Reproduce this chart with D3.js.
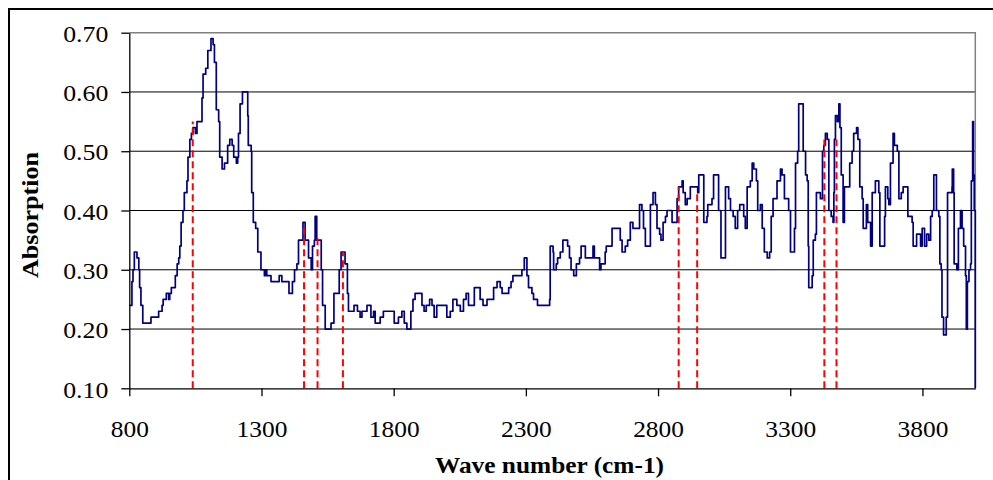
<!DOCTYPE html>
<html><head><meta charset="utf-8">
<script src="https://cdn.jsdelivr.net/npm/d3@7"></script>
<style>body{margin:0;background:#fff} svg{display:block}</style>
</head><body><svg id="c" width="993" height="480"></svg>
<script>
const wavenumbers = [
800,810,814,819,829,836,839,844,851,879,882,907,911,924,928,940,949,953,959,974,981,987,991,996,1003,1008,1018,1022,1029,1035,1041,1050,1056,1069,1075,1079,1089,1097,1109,1117,1122,1129,1138,1142,1151,1160,1172,1180,1189,1195,1205,
1210,1213,1219,1228,1244,1248,1250,1261,1263,1269,1278,1286,1298,1311,1316,1320,1333,1336,1362,1367,1377,1400,1404,1417,1425,1434,1440,1450,1457,1465,1478,1488,1493,1500,1503,1509,1518,1526,1531,1541,1556,1563,1574,1586,1594,1601,1610,1616,
1625,1629,1648,1650,1661,1663,1673,1680,1692,1699,1708,1714,1724,1730,1742,1749,1761,1799,1802,1818,1831,1840,1850,1865,1873,1881,1900,1907,1915,1923,1936,1945,1953,1963,1988,2001,2014,2024,2039,2052,2064,2074,2083,2102,2105,2121,2127,2138,2153,2172,2178,2191,2203,2210,2228,2235,2244,2251,2279,2285,2294,2304,2310,2323,2329,2344,2382,2390,2392,2403,2405,2415,2420,2430,2440,2453,2458,2465,
2471,2481,2491,2503,2509,2518,2525,2550,2554,2559,2571,2579,2584,2600,2604,2619,2626,2651,2657,2664,2676,2685,2695,2705,2720,2730,2739,2745,2752,2761,2771,2781,2790,2796,2806,2811,2819,2828,2834,2847,2853,2866,2872,2878,2884,2891,2895,2903,2910,2922,2945,2950,2954,2967,2973,2985,2988,3001,3004,3010,3021,3029,3038,3051,3055,3067,3074,3084,3092,3101,3109,3118,3124,3130,3137,3149,3156,3162,3172,3177,3187,3194,3202,3213,3222,
3228,3235,3244,3250,3263,3269,3278,3288,3294,3301,3311,3316,3320,3328,3332,3345,3349,3358,3364,3368,3370,3383,3387,3395,3399,3412,3414,3421,3422,3427,3433,3440,3446,3455,3462,3465,3467,3471,3478,3484,3488,3493,3500,3505,3518,3525,3534,3540,3551,3556,3563,3572,3576,3585,3588,3593,3601,3604,3610,3622,3635,3639,
3654,3657,3660,3669,3673,3679,3689,3694,3705,3711,3720,3727,3740,3745,3761,3765,3774,3778,3786,3793,3799,3808,3816,3824,3831,3837,3843,3849,3853,3862,3866,3871,3874,3880,3890,3895,3912,3913,3918,3920,3930,3936,3944,3950,3956,3963,3966,3970,3976,3982,3985,3990,3993,3996,4000,4000
];
const absorption = [
0.24,0.28,0.30,0.33,0.32,0.30,0.27,0.24,0.21,0.21,0.22,0.22,0.23,0.24,0.25,0.26,0.25,0.26,0.27,0.29,0.31,0.32,0.34,0.38,0.40,0.43,0.45,0.49,0.52,0.53,0.54,0.53,0.55,0.55,0.59,0.63,0.64,0.67,0.69,0.68,0.65,0.57,0.55,0.49,0.47,0.48,0.51,0.52,0.51,0.49,0.48,
0.49,0.53,0.58,0.60,0.60,0.56,0.51,0.50,0.43,0.38,0.37,0.33,0.30,0.29,0.30,0.29,0.29,0.28,0.28,0.29,0.28,0.28,0.26,0.28,0.30,0.31,0.35,0.35,0.38,0.35,0.32,0.30,0.34,0.35,0.39,0.35,0.35,0.30,0.24,0.20,0.20,0.21,0.26,0.26,0.30,0.33,0.33,0.31,
0.26,0.23,0.23,0.24,0.24,0.23,0.22,0.23,0.23,0.24,0.24,0.22,0.23,0.21,0.21,0.22,0.23,0.23,0.21,0.22,0.23,0.21,0.20,0.23,0.25,0.26,0.26,0.24,0.23,0.24,0.25,0.24,0.22,0.24,0.24,0.22,0.23,0.25,0.24,0.23,0.25,0.26,0.24,0.24,0.27,0.27,0.25,0.24,0.25,0.25,0.27,0.28,0.27,0.26,0.26,0.27,0.28,0.29,0.29,0.30,0.32,0.29,0.27,0.26,0.25,0.24,0.24,0.25,0.34,0.33,0.30,0.31,0.32,0.33,0.35,0.35,0.34,0.32,
0.30,0.29,0.31,0.32,0.34,0.34,0.32,0.32,0.34,0.32,0.32,0.30,0.31,0.33,0.34,0.34,0.37,0.37,0.35,0.33,0.34,0.35,0.38,0.37,0.37,0.41,0.40,0.37,0.34,0.34,0.41,0.43,0.41,0.37,0.36,0.35,0.38,0.39,0.40,0.40,0.38,0.38,0.42,0.44,0.44,0.45,0.43,0.41,0.42,0.44,0.44,0.43,0.46,0.46,0.38,0.39,0.41,0.41,0.42,0.46,0.46,0.40,0.32,0.32,0.44,0.42,0.40,0.39,0.37,0.40,0.41,0.41,0.39,0.37,0.44,0.45,0.48,0.47,0.45,0.40,0.41,0.37,0.33,0.32,0.33,
0.39,0.42,0.42,0.45,0.47,0.46,0.42,0.42,0.40,0.33,0.33,0.37,0.48,0.50,0.58,0.58,0.50,0.46,0.45,0.34,0.27,0.29,0.35,0.36,0.43,0.43,0.42,0.42,0.50,0.51,0.53,0.52,0.40,0.39,0.38,0.43,0.52,0.56,0.55,0.58,0.54,0.46,0.38,0.44,0.44,0.48,0.50,0.53,0.54,0.52,0.44,0.42,0.37,0.37,0.41,0.38,0.38,0.34,0.43,0.45,0.43,0.34,
0.34,0.39,0.44,0.42,0.41,0.48,0.53,0.51,0.50,0.42,0.43,0.44,0.44,0.39,0.38,0.34,0.34,0.36,0.36,0.34,0.37,0.34,0.36,0.35,0.39,0.40,0.46,0.46,0.40,0.39,0.31,0.30,0.22,0.19,0.22,0.43,0.44,0.47,0.43,0.31,0.30,0.37,0.40,0.37,0.34,0.29,0.20,0.28,0.30,0.31,0.45,0.55,0.46,0.40,0.33,0.10
];
const peakWavenumbers = [1040, 1461, 1512, 1608, 2878, 2948, 3429, 3475];
const peakHeights = [0.55, 0.37, 0.36, 0.33, 0.44, 0.43, 0.52, 0.52];
const xTicks = [800, 1300, 1800, 2300, 2800, 3300, 3800];
const yTicks = [0.10, 0.20, 0.30, 0.40, 0.50, 0.60, 0.70];
const xTitle = "Wave number (cm-1)";
const yTitle = "Absorption";

const svg = d3.select('#c');
const x = d3.scaleLinear().domain([800, 4000]).range([129.3, 975.3]);
const y = d3.scaleLinear().domain([0.10, 0.70]).range([388.3, 32.7]);
const serif = "'Liberation Serif','Times New Roman',serif";

// outer frame
svg.append('rect').attr('x', 9).attr('y', 9).attr('width', 1010).attr('height', 520)
  .attr('fill', 'none').attr('stroke', '#000').attr('stroke-width', 2);

// gridlines
svg.append('g').selectAll('line').data(yTicks.filter(t => t > 0.1 && t < 0.7)).join('line')
  .attr('x1', x(800)).attr('x2', x(4000))
  .attr('y1', d => y(d)).attr('y2', d => y(d))
  .attr('stroke', '#000').attr('stroke-width', 1);

// plot area border (top/right)
svg.append('path')
  .attr('d', `M${x(800)},${y(0.70)}H${x(4000)}V${y(0.10)}`)
  .attr('fill', 'none').attr('stroke', '#808080').attr('stroke-width', 1.5);

// data line
const data = wavenumbers.map((w, i) => [w, absorption[i]]);
svg.append('path').datum(data)
  .attr('d', d3.line().curve(d3.curveStepAfter).x(d => x(d[0])).y(d => y(d[1])))
  .attr('fill', 'none').attr('stroke', '#000080').attr('stroke-width', 1.7)
  .attr('stroke-linejoin', 'round');

// peak markers
svg.append('g').selectAll('line').data(peakWavenumbers).join('line')
  .attr('x1', d => x(d)).attr('x2', d => x(d))
  .attr('y1', y(0.10)).attr('y2', (d, i) => y(peakHeights[i]))
  .attr('stroke', '#ff0000').attr('stroke-width', 2).attr('stroke-dasharray', '7,4');

function lenOf(s) {
  let n = 0;
  for (const c of s) n += (c === '.') ? 7 : 12.7;
  return n;
}

// y axis
const gy = svg.append('g').attr('transform', `translate(${x(800)},0)`)
  .call(d3.axisLeft(y).tickValues(yTicks).tickFormat(d3.format('.2f')).tickSize(8).tickSizeOuter(0));
gy.select('.domain').attr('stroke', '#000').attr('stroke-width', 1.3);
gy.selectAll('.tick line').attr('stroke', '#000').attr('stroke-width', 1.3);
gy.selectAll('.tick text').attr('x', -21).attr('dy', '0.38em')
  .attr('font-family', serif).attr('font-size', 23).attr('fill', '#000')
  .attr('textLength', function() { return lenOf(this.textContent); })
  .attr('lengthAdjust', 'spacingAndGlyphs');

// x axis
const gx = svg.append('g').attr('transform', `translate(0,${y(0.10)})`)
  .call(d3.axisBottom(x).tickValues(xTicks).tickFormat(d3.format('d')).tickSize(8).tickSizeOuter(0));
gx.select('.domain').attr('stroke', '#000').attr('stroke-width', 1.3);
gx.selectAll('.tick line').attr('stroke', '#000').attr('stroke-width', 1.3);
gx.selectAll('.tick text').attr('y', 49).attr('dy', 0)
  .attr('font-family', serif).attr('font-size', 23).attr('fill', '#000')
  .attr('textLength', function() { return lenOf(this.textContent); })
  .attr('lengthAdjust', 'spacingAndGlyphs');

// titles
svg.append('text').attr('x', 549.5).attr('y', 473).attr('text-anchor', 'middle')
  .attr('font-family', serif).attr('font-weight', 'bold').attr('font-size', 24)
  .attr('textLength', 229).attr('lengthAdjust', 'spacingAndGlyphs').text(xTitle);
svg.append('text').attr('transform', 'translate(38,215) rotate(-90)').attr('text-anchor', 'middle')
  .attr('font-family', serif).attr('font-weight', 'bold').attr('font-size', 24)
  .attr('textLength', 126).attr('lengthAdjust', 'spacingAndGlyphs').text(yTitle);
</script>
</body></html>
